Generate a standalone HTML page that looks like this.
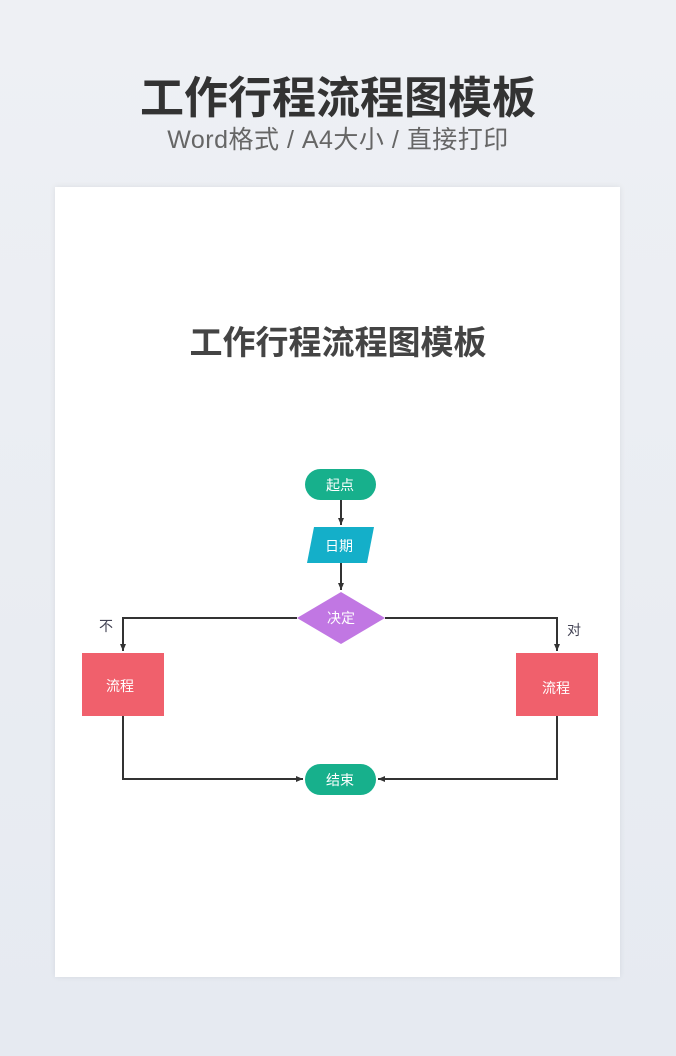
<!DOCTYPE html>
<html><head><meta charset="utf-8"><style>
body{margin:0;width:676px;height:1056px;background:linear-gradient(#eef0f4,#e6eaf1);font-family:"Liberation Sans","Noto Sans CJK SC",sans-serif;position:relative;overflow:hidden}
.t{position:absolute;left:0;width:676px;text-align:center}
</style></head><body>
<div class="t" style="top:62px;font-size:44px;font-weight:bold;color:#333">工作行程流程图模板</div>
<div class="t" style="top:120px;font-size:25px;color:#666;letter-spacing:0.5px">Word格式 / A4大小 / 直接打印</div>
<div style="position:absolute;left:55px;top:187px;width:565px;height:790px;background:#fff;box-shadow:0 0 6px rgba(0,0,0,0.08)"></div>
<div class="t" style="top:316px;font-size:33px;font-weight:bold;color:#444">工作行程流程图模板</div>
<svg width="676" height="1056" style="position:absolute;left:0;top:0" font-family="Liberation Sans, Noto Sans CJK SC, sans-serif">
<defs><marker id="a" markerWidth="8" markerHeight="8" refX="7" refY="4" orient="auto" markerUnits="userSpaceOnUse"><path d="M0,1 L7,4 L0,7z" fill="#333"/></marker></defs>
<g stroke="#333" stroke-width="2" fill="none">
<line x1="341" y1="500" x2="341" y2="525" marker-end="url(#a)"/>
<line x1="341" y1="563" x2="341" y2="590" marker-end="url(#a)"/>
<polyline points="297,618 123,618 123,651" marker-end="url(#a)"/>
<polyline points="385,618 557,618 557,651" marker-end="url(#a)"/>
<polyline points="123,716 123,779 303,779" marker-end="url(#a)"/>
<polyline points="557,716 557,779 378,779" marker-end="url(#a)"/>
</g>
<rect x="305" y="469" width="71" height="31" rx="15.5" fill="#17b08c"/>
<polygon points="314,527 374,527 367,563 307,563" fill="#14afc9"/>
<polygon points="341,592 385,618 341,644 297,618" fill="#c177e3"/>
<rect x="82" y="653" width="82" height="63" fill="#f0606c"/>
<rect x="516" y="653" width="82" height="63" fill="#f0606c"/>
<rect x="305" y="764" width="71" height="31" rx="15.5" fill="#17b08c"/>
<g fill="#fff" font-size="14" text-anchor="middle">
<text x="340" y="490">起点</text>
<text x="339" y="551">日期</text>
<text x="341" y="623">决定</text>
<text x="120" y="691">流程</text>
<text x="556" y="693">流程</text>
<text x="340" y="785">结束</text>
</g>
<g fill="#445" font-size="14" text-anchor="middle">
<text x="106" y="631">不</text>
<text x="574" y="635">对</text>
</g>
</svg>
</body></html>
